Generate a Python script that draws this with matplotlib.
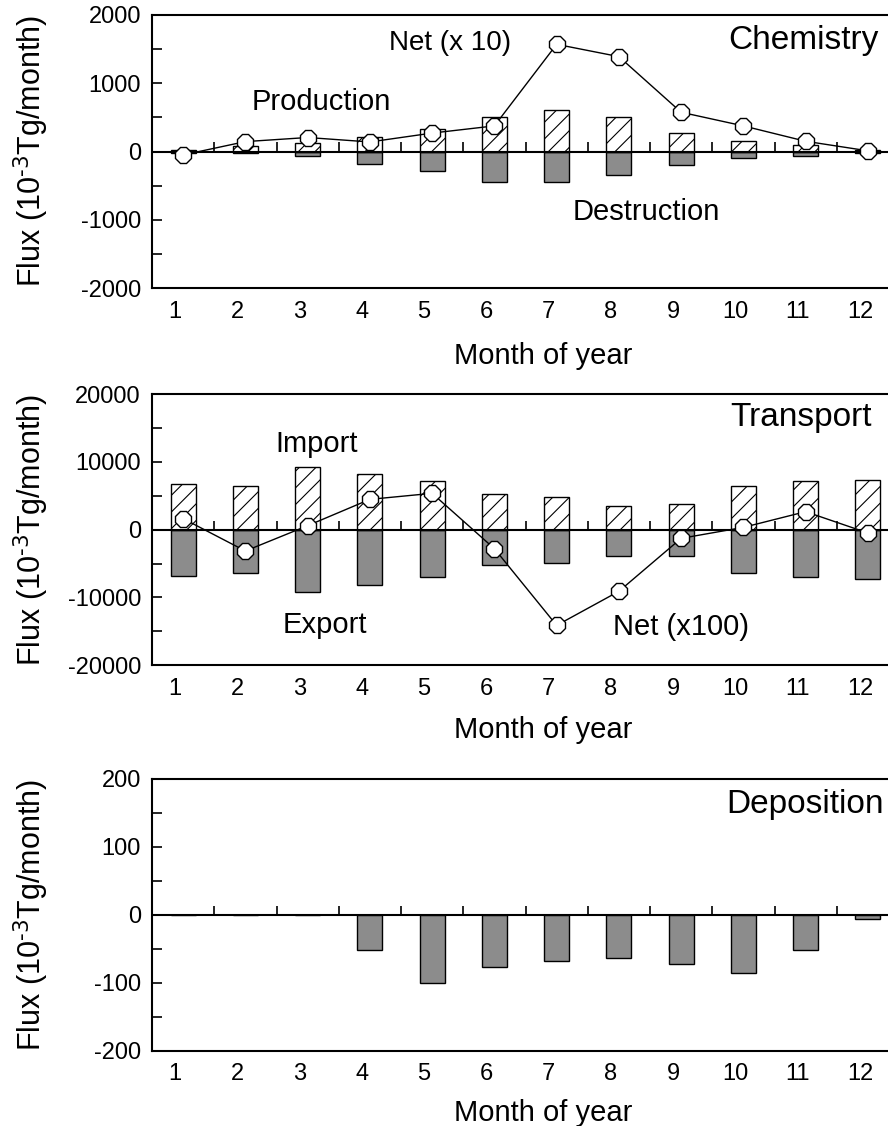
import matplotlib.pyplot as plt
from matplotlib.ticker import MultipleLocator
from matplotlib.transforms import ScaledTranslation
import numpy as np

plt.rcParams["font.family"] = ["Liberation Sans", "DejaVu Sans"]
plt.rcParams["mathtext.default"] = "regular"
plt.rcParams["axes.unicode_minus"] = False
plt.rcParams["hatch.linewidth"] = 0.8

months = np.arange(1, 13)

# chemistry (10^-3 Tg/month)
chem_production = [20, 75, 120, 215, 330, 500, 610, 505, 265, 155, 95, 20]
chem_destruction = [-20, -25, -60, -180, -290, -440, -440, -350, -195, -95, -60, -20]
chem_net_x10 = [-50, 145, 205, 140, 270, 375, 1570, 1390, 575, 375, 150, 10]

# transport
trans_import = [6800, 6450, 9200, 8180, 7140, 5220, 4780, 3500, 3840, 6450, 7140, 7340]
trans_export = [-6850, -6450, -9260, -8230, -7040, -5270, -4880, -3890, -3890, -6450, -7040, -7340]
trans_net_x100 = [1630, -3150, 590, 4480, 5370, -2810, -14140, -9110, -1280, 340, 2660, -490]

# deposition
deposition = [0, 0, 0, -52, -100, -77, -68, -63, -72, -86, -52, -6]

GRAY = "#8c8c8c"
W = 0.4

fig = plt.figure(figsize=(8.88, 11.26), dpi=100)
left, width = 0.1712, 0.8412
ax1 = fig.add_axes([left, 0.7442, width, 0.2425])
ax2 = fig.add_axes([left, 0.4094, width, 0.2404])
ax3 = fig.add_axes([left, 0.0670, width, 0.2412])


def setup(ax, lim, major, title, title_x, title_y, xlabelpad=14):
    ax.set_xlim(0.5, 12.5)
    ax.set_ylim(-lim, lim)
    ax.yaxis.set_major_locator(MultipleLocator(major))
    ax.yaxis.set_minor_locator(MultipleLocator(major / 2))
    ax.tick_params(axis="y", which="both", direction="in", length=7,
                   width=1.2, labelsize=17, pad=8)
    ax.set_xticks(months)
    ax.tick_params(axis="x", length=0, labelsize=17, pad=9)
    off = ScaledTranslation(-0.08, 0, fig.dpi_scale_trans)
    for lbl in ax.get_xticklabels():
        lbl.set_transform(lbl.get_transform() + off)
    for s in ["left", "top", "bottom"]:
        ax.spines[s].set_linewidth(1.5)
    ax.spines["right"].set_visible(False)
    ax.axhline(0, color="black", lw=1.5, zorder=4)
    # category separators on the zero line
    ax.vlines(months[:-1] + 0.5, 0, 2 * lim * 0.033, color="black",
              lw=1.2, zorder=4)
    ax.set_xlabel("Month of year", fontsize=21, labelpad=xlabelpad)
    ax.xaxis.label.set_x(0.524)
    ax.set_ylabel(r"Flux (10$^{\text{-3}}$Tg/month)", fontsize=22)
    ax.yaxis.set_label_coords(-0.135, 0.5)
    ax.text(title_x, title_y, title, transform=ax.transAxes, ha="right",
            va="center", fontsize=24)


# Chemistry
setup(ax1, 2000, 1000, "Chemistry", 0.973, 0.905)
ax1.bar(months, chem_destruction, W, color=GRAY, edgecolor="black", lw=1, zorder=2)
ax1.bar(months, chem_production, W, color="white", edgecolor="black",
        hatch="//", lw=1, zorder=2)
ax1.plot(months, chem_net_x10, "-", color="black", lw=1, marker="8",
         ms=13, mfc="white", mec="black", mew=1, zorder=5)
ax1.text(4.3, 1590, "Net (x 10)", fontsize=20, va="center")
ax1.text(2.1, 720, "Production", fontsize=21, va="center")
ax1.text(7.25, -890, "Destruction", fontsize=21, va="center")

# Transport
setup(ax2, 20000, 10000, "Transport", 0.964, 0.915, xlabelpad=12)
ax2.bar(months, trans_export, W, color=GRAY, edgecolor="black", lw=1, zorder=2)
ax2.bar(months, trans_import, W, color="white", edgecolor="black",
        hatch="//", lw=1, zorder=2)
ax2.plot(months, trans_net_x100, "-", color="black", lw=1, marker="8",
         ms=13, mfc="white", mec="black", mew=1, zorder=5)
ax2.text(2.48, 12600, "Import", fontsize=21, va="center")
ax2.text(2.6, -14100, "Export", fontsize=21, va="center")
ax2.text(7.9, -14400, "Net (x100)", fontsize=21, va="center")

# Deposition
setup(ax3, 200, 100, "Deposition", 0.98, 0.905, xlabelpad=10)
ax3.bar(months, deposition, W, color=GRAY, edgecolor="black", lw=1, zorder=2)

fig.savefig("out.png", dpi=100)
